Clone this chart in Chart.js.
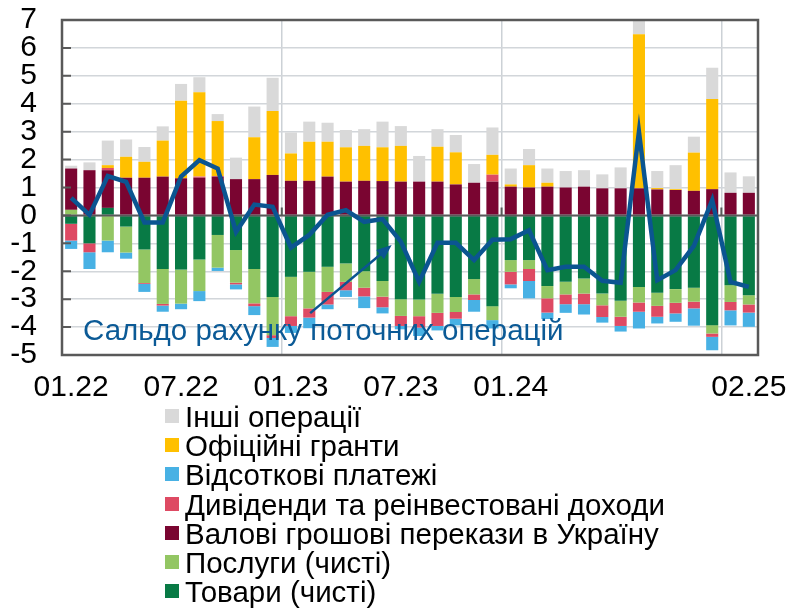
<!DOCTYPE html>
<html lang="uk">
<head>
<meta charset="utf-8">
<script src="https://cdn.jsdelivr.net/npm/chart.js@4/dist/chart.umd.min.js"></script>
<style>
  html, body { margin: 0; padding: 0; background: #fff; }
  #wrap { position: relative; width: 788px; height: 611px; }
  #legend { position: absolute; left: 165px; top: 402px; font: 29.5px "Liberation Sans", Arial, sans-serif; color: #000; }
  #legend .row { position: relative; height: 29.2px; line-height: 29.2px; padding-left: 20px; white-space: nowrap; }
  #legend .sw { position: absolute; left: 0; top: 7px; width: 14px; height: 14px; }
</style>
</head>
<body>
<div id="wrap">
  <canvas id="chart" width="788" height="611"></canvas>
  <div id="legend"></div>
</div>
<script>
// Months 01.22 – 02.25
const months = [
  '01.22','02.22','03.22','04.22','05.22','06.22','07.22','08.22','09.22','10.22','11.22','12.22',
  '01.23','02.23','03.23','04.23','05.23','06.23','07.23','08.23','09.23','10.23','11.23','12.23',
  '01.24','02.24','03.24','04.24','05.24','06.24','07.24','08.24','09.24','10.24','11.24','12.24',
  '01.25','02.25'
];
const shownLabels = ['01.22', '07.22', '01.23', '07.23', '01.24', '02.25'];
const yearStarts = [12, 24, 36];

// Components, bn USD
const goods = [
  -0.3, -1.0, 0.27, -0.4, -1.22, -1.92, -1.94, -1.58, -0.7, -1.24, -1.92, -2.92,
  -2.2, -2.02, -1.84, -1.72, -2.0, -2.35, -3.0, -3.01, -2.81, -2.92, -2.28, -3.25,
  -1.6, -1.6, -2.53, -2.38, -2.26, -2.8, -3.06, -2.56, -2.77, -2.64, -2.59, -3.93,
  -2.5, -2.86
];
const services = [
  0.2, 0, -0.9, -0.93, -1.2, -1.25, -1.22, -1.13, -1.17, -1.17, -1.23, -1.37,
  -1.41, -1.31, -0.9, -0.66, -0.59, -0.56, -0.6, -0.6, -0.68, -0.54, -0.55, -0.5,
  -0.42, -0.32, -0.44, -0.45, -0.54, -0.42, -0.57, -0.56, -0.47, -0.49, -0.5, -0.3,
  -0.6, -0.33
];
const remittances = [
  1.48, 1.62, 1.35, 1.35, 1.35, 1.39, 1.33, 1.35, 1.39, 1.3, 1.3, 1.45,
  1.24, 1.24, 1.39, 1.21, 1.24, 1.23, 1.21, 1.21, 1.21, 1.11, 1.17, 1.21,
  1.03, 1.0, 1.03, 1.0, 1.03, 0.97, 0.97, 0.97, 0.93, 0.91, 0.88, 0.94,
  0.81, 0.81
];
const dividends = [
  -0.6, -0.32, 0.08, 0, -0.03, -0.06, 0, 0.04, 0.02, -0.06, -0.1, -0.1,
  -0.35, -0.33, -0.45, -0.3, -0.31, -0.38, -0.36, -0.41, -0.47, -0.24, -0.2, 0.25,
  -0.45, -0.43, -0.51, -0.35, -0.38, -0.42, -0.33, -0.33, -0.39, -0.38, -0.24, -0.12,
  -0.3, -0.29
];
const interest = [
  -0.3, -0.6, -0.42, -0.22, -0.29, -0.22, -0.2, -0.36, -0.12, -0.18, -0.32, -0.32,
  -0.25, -0.38, -0.17, -0.24, -0.42, -0.22, -0.12, -0.3, -0.16, -0.24, -0.42, -0.3,
  -0.14, -0.62, -0.23, -0.31, -0.37, -0.2, -0.2, -0.6, -0.24, -0.3, -0.62, -0.48,
  -0.54, -0.51
];
const grants = [
  0, 0, 0.1, 0.75, 0.57, 1.29, 2.78, 3.02, 1.97, 0, 1.5, 2.29,
  0.98, 1.4, 1.25, 1.23, 1.25, 1.21, 1.28, 0, 1.25, 1.15, 0, 0.71,
  0.08, 0.8, 0.14, 0, 0, 0, 0, 5.52, 0.05, 0.03, 1.37, 3.23,
  0, 0
];
const other = [
  0.1, 0.28, 0.88, 0.62, 0.53, 0.51, 0.6, 0.54, 0.25, 0.77, 1.1, 1.19,
  0.75, 0.72, 0.68, 0.62, 0.6, 0.92, 0.71, 0.92, 0.63, 0.62, 0.67, 0.98,
  0.57, 0.58, 0.51, 0.59, 0.59, 0.5, 0.75, 0.6, 0.61, 0.86, 0.57, 1.12,
  0.73, 0.59
];
const balance = [
  0.63, 0.02, 1.41, 1.2, -0.25, -0.25, 1.39, 1.98, 1.68, -0.59, 0.39, 0.31,
  -1.15, -0.7, 0.02, 0.19, -0.23, -0.13, -0.94, -2.38, -0.98, -0.98, -1.6, -0.87,
  -0.85, -0.53, -1.96, -1.84, -1.84, -2.34, -2.41, 3.0, -2.32, -1.96, -1.09, 0.55,
  -2.38, -2.56
];

const FONT = '"Liberation Sans", Arial, sans-serif';
const LINE_BLUE = '#0b5591';

const barSeries = [
  { label: 'Товари (чисті)', data: goods, color: '#087a45' },
  { label: 'Послуги (чисті)', data: services, color: '#93c663' },
  { label: 'Валові грошові перекази в Україну', data: remittances, color: '#7a0531' },
  { label: 'Дивіденди та реінвестовані доходи', data: dividends, color: '#de4a63' },
  { label: 'Відсоткові платежі', data: interest, color: '#48b1e4' },
  { label: 'Офіційні гранти', data: grants, color: '#ffc000' },
  { label: 'Інші операції', data: other, color: '#d9d9d9' }
];

const datasets = barSeries.map(s => ({
  type: 'bar',
  label: s.label,
  data: s.data,
  backgroundColor: s.color,
  borderWidth: 0,
  barPercentage: 0.66,
  categoryPercentage: 1,
  order: 1
}));

datasets.push({
  type: 'line',
  label: 'Сальдо рахунку поточних операцій',
  data: balance,
  borderColor: LINE_BLUE,
  borderWidth: 4.5,
  pointRadius: 0,
  tension: 0,
  fill: false,
  order: 0
});

// frame, zero line, inner ticks, annotation
const decor = {
  id: 'decor',
  beforeDatasetDraw(chart, args) {
    if (args.meta.type !== 'line') return;
    const { ctx, chartArea: a, scales } = chart;
    const y0 = scales.y.getPixelForValue(0);
    ctx.save();
    ctx.strokeStyle = '#595959';
    ctx.lineWidth = 2;
    ctx.beginPath();
    ctx.moveTo(a.left, y0);
    ctx.lineTo(a.right, y0);
    yearStarts.forEach(i => {
      const x = a.left + i * (a.right - a.left) / months.length;
      ctx.moveTo(x, y0);
      ctx.lineTo(x, y0 - 8);
    });
    ctx.stroke();
    ctx.restore();
  },
  afterDraw(chart) {
    const { ctx, chartArea: a, scales } = chart;
    ctx.save();
    ctx.strokeStyle = '#595959';
    ctx.lineWidth = 2.5;
    ctx.strokeRect(a.left, a.top, a.right - a.left, a.bottom - a.top);
    ctx.lineWidth = 2;
    ctx.beginPath();
    for (let v = -4; v <= 6; v++) {
      const y = scales.y.getPixelForValue(v);
      ctx.moveTo(a.left, y);
      ctx.lineTo(a.left + 9, y);
    }
    ctx.stroke();

    // arrow towards the balance line
    const x1 = scales.x.getPixelForValue(13.05), y1 = scales.y.getPixelForValue(-3.5);
    const x2 = scales.x.getPixelForValue(17.5), y2 = scales.y.getPixelForValue(-1.06);
    const ang = Math.atan2(y2 - y1, x2 - x1);
    ctx.strokeStyle = LINE_BLUE;
    ctx.fillStyle = LINE_BLUE;
    ctx.lineWidth = 2.5;
    ctx.beginPath();
    ctx.moveTo(x1, y1);
    ctx.lineTo(x2 - 10 * Math.cos(ang), y2 - 10 * Math.sin(ang));
    ctx.stroke();
    ctx.beginPath();
    ctx.moveTo(x2, y2);
    ctx.lineTo(x2 - 15 * Math.cos(ang) + 6 * Math.sin(ang), y2 - 15 * Math.sin(ang) - 6 * Math.cos(ang));
    ctx.lineTo(x2 - 15 * Math.cos(ang) - 6 * Math.sin(ang), y2 - 15 * Math.sin(ang) + 6 * Math.cos(ang));
    ctx.closePath();
    ctx.fill();

    ctx.font = '29.5px ' + FONT;
    ctx.textBaseline = 'alphabetic';
    ctx.fillStyle = '#0b5a96';
    ctx.fillText('Сальдо рахунку поточних операцій', 83, 340);
    ctx.restore();
  }
};

new Chart(document.getElementById('chart'), {
  data: { labels: months, datasets: datasets },
  options: {
    responsive: false,
    animation: false,
    layout: { padding: { top: 20, right: 30, bottom: 201, left: 0 } },
    plugins: { legend: { display: false }, tooltip: { enabled: false } },
    scales: {
      x: {
        stacked: true,
        offset: true,
        border: { display: false },
        grid: {
          offset: true,
          drawTicks: false,
          lineWidth: 1.5,
          color: ctx => yearStarts.includes(ctx.index) ? '#ccd1d6' : 'rgba(0,0,0,0)'
        },
        ticks: {
          autoSkip: false,
          maxRotation: 0,
          padding: 15,
          color: '#000',
          font: { family: FONT, size: 30 },
          callback: (v, i) => shownLabels.includes(months[i]) ? months[i] : ''
        },
        afterFit: s => { s.height = 55; s.paddingLeft = 0; s.paddingRight = 0; }
      },
      y: {
        stacked: true,
        min: -5,
        max: 7,
        border: { display: false },
        grid: { drawTicks: false, lineWidth: 1.5, color: '#d2d6da' },
        ticks: {
          stepSize: 1,
          autoSkip: false,
          padding: 25,
          color: '#000',
          font: { family: FONT, size: 30 }
        },
        afterFit: s => { s.width = 62; s.paddingTop = 0; s.paddingBottom = 0; }
      }
    }
  },
  plugins: [decor]
});

// legend, top to bottom in reverse stacking order
const legend = document.getElementById('legend');
barSeries.slice().reverse().forEach(s => {
  const row = document.createElement('div');
  row.className = 'row';
  const sw = document.createElement('span');
  sw.className = 'sw';
  sw.style.background = s.color;
  row.appendChild(sw);
  row.appendChild(document.createTextNode(s.label));
  legend.appendChild(row);
});
</script>
</body>
</html>
